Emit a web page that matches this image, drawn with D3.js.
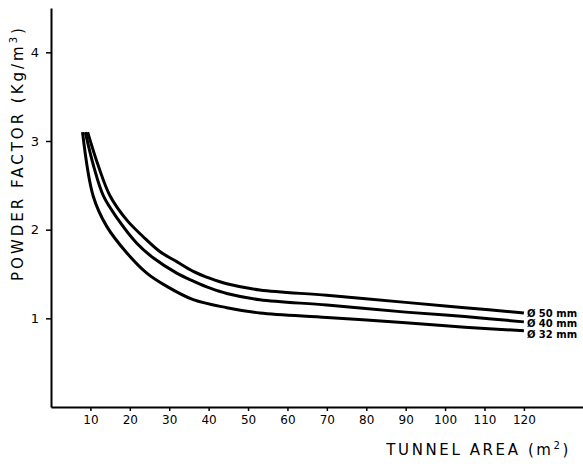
<!DOCTYPE html>
<meta charset="utf-8">
<style>
  body { margin: 0; background: #fff; }
  svg text { font-family: "DejaVu Sans", sans-serif; fill: #000; }
</style>
<script src="https://d3js.org/d3.v7.min.js"></script>
<div id="chart"></div>
<script>
// tunnel area (m2) and powder factor (kg/m3)
var area50 = [9.3, 12.0, 15.0, 19.2, 23.4, 27.7, 31.9, 36.1, 40.4, 44.6, 53, 70, 90, 105, 120];
var pf50   = [3.1, 2.72, 2.38, 2.11, 1.92, 1.75, 1.64, 1.53, 1.45, 1.39, 1.32, 1.26, 1.18, 1.12, 1.06];

var area40 = [8.7, 10.8, 13.3, 17.1, 21.7, 26.0, 31.9, 36.1, 40.4, 44.6, 53, 70, 90, 105, 120];
var pf40   = [3.1, 2.72, 2.38, 2.11, 1.85, 1.68, 1.51, 1.42, 1.34, 1.28, 1.21, 1.15, 1.07, 1.02, 0.96];

var area32 = [8.0, 10.7, 14.1, 19.2, 24.3, 29.4, 36.1, 44.6, 53, 70, 90, 105, 120];
var pf32   = [3.1, 2.38, 2.04, 1.74, 1.51, 1.36, 1.21, 1.12, 1.06, 1.01, 0.95, 0.90, 0.86];

var seriesNames = ["\u00D8 50 mm", "\u00D8 40 mm", "\u00D8 32 mm"];
var xTicks = [10, 20, 30, 40, 50, 60, 70, 80, 90, 100, 110, 120];
var yTicks = [1, 2, 3, 4];

var width = 583, height = 464;

var svg = d3.select("#chart").append("svg")
  .attr("width", width)
  .attr("height", height);

var x = d3.scaleLinear().domain([0, 135]).range([51, 583]);
var y = d3.scaleLinear().domain([0, 4.5]).range([407, 8]);

// axes
var xAxis = svg.append("g")
  .attr("transform", "translate(0,407)")
  .call(d3.axisBottom(x).tickValues(xTicks).tickSize(4).tickSizeOuter(0).tickPadding(4));
xAxis.selectAll("text").style("font-size", "12px");

var yAxis = svg.append("g")
  .attr("transform", "translate(51,0)")
  .call(d3.axisLeft(y).tickValues(yTicks).tickFormat(d3.format("d")).tickSize(5).tickSizeOuter(0).tickPadding(7));
yAxis.selectAll("text").style("font-size", "13px");

svg.selectAll(".domain").attr("stroke-width", 2);
svg.selectAll(".tick line").attr("stroke-width", 1.5);

// axis titles
svg.append("text")
  .attr("x", 571).attr("y", 455)
  .attr("text-anchor", "end")
  .style("font-size", "15px")
  .style("letter-spacing", "2.6px")
  .html("TUNNEL AREA (m<tspan dy='-6' font-size='10px'>2</tspan><tspan dy='6'>)</tspan>");

svg.append("text")
  .attr("transform", "translate(23,153) rotate(-90)")
  .attr("text-anchor", "middle")
  .style("font-size", "15px")
  .style("letter-spacing", "3px")
  .html("POWDER FACTOR (Kg/m<tspan dy='-6' font-size='10px'>3</tspan><tspan dy='6'>)</tspan>");

// curves
var series = [
  {name: seriesNames[0], xs: area50, ys: pf50, dy: 0},
  {name: seriesNames[1], xs: area40, ys: pf40, dy: 1},
  {name: seriesNames[2], xs: area32, ys: pf32, dy: 3}
];

var line = d3.line()
  .x(function(d) { return x(d[0]); })
  .y(function(d) { return y(d[1]); })
  .curve(d3.curveCatmullRom.alpha(0.5));

svg.selectAll("path.curve")
  .data(series).enter()
  .append("path")
  .attr("class", "curve")
  .attr("d", function(s) { return line(s.xs.map(function(v, i) { return [v, s.ys[i]]; })); })
  .attr("fill", "none")
  .attr("stroke", "#000")
  .attr("stroke-width", 3);

svg.selectAll("text.lab")
  .data(series).enter()
  .append("text")
  .attr("class", "lab")
  .attr("x", x(120) + 3)
  .attr("y", function(s) { return y(s.ys[s.ys.length - 1]) + 4 + s.dy; })
  .style("font-size", "10px")
  .style("font-weight", "bold")
  .text(function(s) { return s.name; });
</script>
